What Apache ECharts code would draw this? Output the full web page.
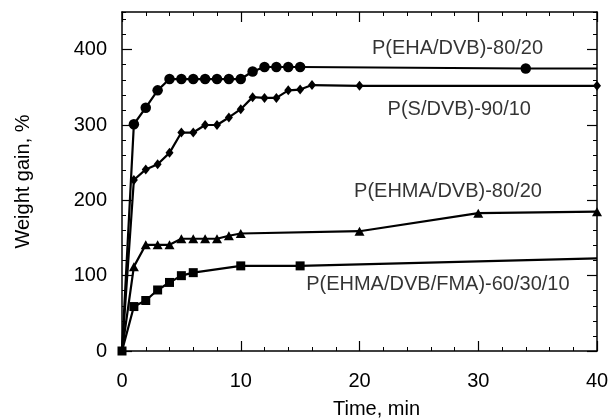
<!DOCTYPE html>
<html>
<head>
<meta charset="utf-8">
<title>Weight gain vs time</title>
<script src="https://cdn.jsdelivr.net/npm/echarts@6/dist/echarts.min.js"></script>
<style>
  html, body { margin: 0; padding: 0; background: #fff; }
  #chart { width: 612px; height: 418px; }
</style>
</head>
<body>
<div id="chart"></div>
<script>
// Weight gain (%) versus time (min) for four polymer networks
const ehaDvb = [[0,0],[1,301],[2,323],[3,346],[4,361],[5,361],[6,361],[7,361],[8,361],[9,361],[10,361],[11,371],[12,377],[13,377],[14,377],[15,377],[34,375],[40,375]];
const sDvb = [[0,0],[1,227],[2,241],[3,248],[4,263],[5,290],[6,290],[7,300],[8,300],[9,310],[10,321],[11,337],[12,336],[13,336],[14,346],[15,347],[16,353],[20,352],[40,352]];
const ehmaDvb = [[0,0],[1,112],[2,141],[3,141],[4,141],[5,149],[6,149],[7,149],[8,149],[9,153],[10,156],[20,159],[30,183],[40,185]];
const ehmaDvbFma = [[0,0],[1,59],[2,67],[3,81],[4,91],[5,100],[6,104],[10,113],[15,113],[40,123]];

const seriesNames = ['P(EHA/DVB)-80/20', 'P(S/DVB)-90/10', 'P(EHMA/DVB)-80/20', 'P(EHMA/DVB/FMA)-60/30/10'];
// curve captions anchored in data units (time, weight gain)
const captionAnchors = [[28.25, 402], [28.4, 321], [27.45, 212], [26.6, 88]];

const xMajorTicks = [0, 10, 20, 30, 40];
const yMajorTicks = [0, 100, 200, 300, 400];

const FONT = "'Liberation Sans', Arial, Helvetica, sans-serif";
const INK = '#000';

const chart = echarts.init(document.getElementById('chart'), null, { renderer: 'canvas' });

function xAxisDef(pos, major, withLabels) {
  return {
    type: 'value', position: pos, min: 0, max: 40, interval: 2,
    axisLine: { show: !major, onZero: false, lineStyle: { color: INK, width: 1.5 } },
    axisTick: major
      ? { show: true, inside: true, length: 10, customValues: xMajorTicks, lineStyle: { color: INK, width: 1.2 } }
      : { show: true, inside: true, length: 4, lineStyle: { color: INK, width: 1 } },
    axisLabel: withLabels
      ? { show: true, customValues: xMajorTicks, color: INK, fontSize: 20, fontFamily: FONT, margin: 20 }
      : { show: false },
    splitLine: { show: false },
    name: withLabels ? 'Time, min' : '',
    nameLocation: 'middle', nameGap: 48,
    nameTextStyle: { color: INK, fontSize: 20, fontFamily: FONT, padding: [0, 0, 0, 34] }
  };
}

function yAxisDef(pos, major, withLabels) {
  return {
    type: 'value', position: pos, min: 0, max: 450, interval: 20,
    axisLine: { show: !major, onZero: false, lineStyle: { color: INK, width: 1.5 } },
    axisTick: major
      ? { show: true, inside: true, length: 10, customValues: yMajorTicks, lineStyle: { color: INK, width: 1.2 } }
      : { show: true, inside: true, length: 4, lineStyle: { color: INK, width: 1 } },
    axisLabel: withLabels
      ? { show: true, customValues: yMajorTicks, color: INK, fontSize: 20, fontFamily: FONT, margin: 15 }
      : { show: false },
    splitLine: { show: false },
    name: withLabels ? 'Weight gain, %' : '',
    nameLocation: 'middle', nameGap: 89, nameRotate: 90,
    nameTextStyle: { color: INK, fontSize: 20, fontFamily: FONT }
  };
}

// markers hidden on the given point indices (shared origin, trailing segment end)
function markerSize(size, hidden) {
  return function (val, params) {
    return hidden.indexOf(params.dataIndex) >= 0 ? 0 : size;
  };
}

function curve(name, data, symbol, size, hidden) {
  return {
    name: name, type: 'line', data: data,
    xAxisIndex: 0, yAxisIndex: 0,
    symbol: symbol, symbolSize: markerSize(size, hidden),
    showAllSymbol: true,
    lineStyle: { color: INK, width: 2.2 },
    itemStyle: { color: INK, borderWidth: 0 },
    clip: false
  };
}

const option = {
  animation: false,
  backgroundColor: '#fff',
  grid: { left: 122, right: 15, top: 12, bottom: 67, containLabel: false, outerBoundsMode: 'none' },
  xAxis: [
    xAxisDef('bottom', false, true),
    xAxisDef('bottom', true, false),
    xAxisDef('top', false, false),
    xAxisDef('top', true, false)
  ],
  yAxis: [
    yAxisDef('left', false, true),
    yAxisDef('left', true, false),
    yAxisDef('right', false, false),
    yAxisDef('right', true, false)
  ],
  series: [
    curve(seriesNames[0], ehaDvb, 'circle', 10.5, [0, ehaDvb.length - 1]),
    curve(seriesNames[1], sDvb, 'diamond', [8, 10], [0]),
    curve(seriesNames[2], ehmaDvb, 'triangle', [10, 9], [0]),
    curve(seriesNames[3], ehmaDvbFma, 'rect', 9, [ehmaDvbFma.length - 1]),
    {
      type: 'scatter', silent: true, xAxisIndex: 0, yAxisIndex: 0,
      symbolSize: 0, z: 5,
      data: captionAnchors.map((p, i) => ({ name: seriesNames[i], value: p })),
      label: {
        show: true, position: 'inside', formatter: '{b}',
        color: INK, fontSize: 20, fontFamily: FONT
      }
    }
  ]
};

chart.setOption(option);
</script>
</body>
</html>
